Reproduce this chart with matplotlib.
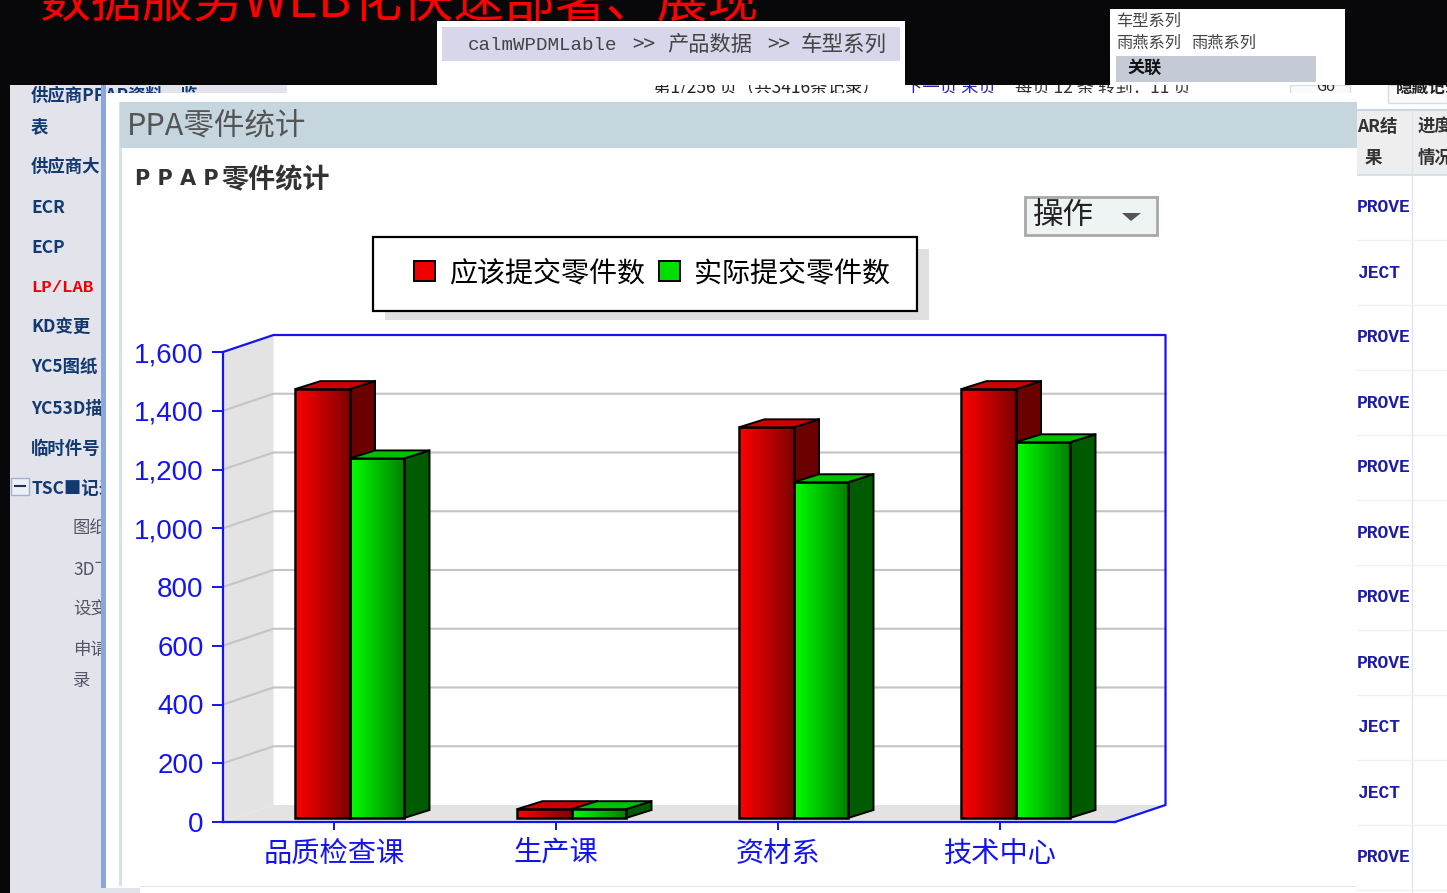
import matplotlib
matplotlib.use('Agg')
import matplotlib.pyplot as plt
import numpy as np
from matplotlib.patches import Rectangle, Polygon, Patch

plt.rcParams['font.family'] = ['Noto Sans CJK SC', 'DejaVu Sans']

categories = ['品质检查课', '生产课', '资材系', '技术中心']
should_submit = [1460, 30, 1330, 1460]
actual_submit = [1224, 30, 1143, 1279]
y_ticks = [0, 200, 400, 600, 800, 1000, 1200, 1400, 1600]
legend_labels = ['应该提交零件数', '实际提交零件数']

sidebar_bold = [('表', 125), ('供应商大', 165), ('ECR', 206), ('ECP', 246),
                ('KD变更', 326), ('YC5图纸', 366), ('YC53D描', 407), ('临时件号', 447)]
sidebar_plain = [('图纸', 527), ('3D下', 568), ('设变', 608), ('申请', 648)]
status_rows = ['PROVE', 'JECT', 'PROVE', 'PROVE', 'PROVE', 'PROVE', 'PROVE', 'PROVE', 'JECT', 'JECT', 'PROVE']
status_y = [207, 272, 337, 402, 467, 532, 597, 662, 727, 792, 857]

W, H = 1447, 893
fig = plt.figure(figsize=(W / 100, H / 100), dpi=100, facecolor='#08080a')

# page axes in screenshot pixels, for everything around the chart
page = fig.add_axes([0, 0, 1, 1])
page.set_xlim(0, W)
page.set_ylim(H, 0)
page.axis('off')


def box(x0, y0, x1, y1, color, z=1, **kw):
    page.add_patch(Rectangle((x0, y0), x1 - x0, y1 - y0, facecolor=color, edgecolor=kw.pop('edge', 'none'), zorder=z, **kw))


def label(x, y, s, size=12, color='#333333', z=2, **kw):
    # CJK glyphs sit a bit high with va=center
    page.text(x, y + 2, s, fontsize=size, color=color, va='center', zorder=z, **kw)


# background page
box(10, 85, W, H, 'white', 1)
box(10, 85, 101, H, '#e3e3ec', 1)
box(101, 85, 287, 93, '#e3e3ec', 1)
label(31, 94, '供应商PPAP资料一览', 12.5, '#123a70', weight='bold')
for txt, yy in sidebar_bold:
    label(31, yy, txt, 12.5, '#123a70', weight='bold')
label(31, 286, 'LP/LAB', 12.5, '#f00000', weight='bold', family='Liberation Mono')
label(31, 487, 'TSC■记录', 12.5, '#123a70', weight='bold')
for txt, yy in sidebar_plain:
    label(73, yy, txt, 12.5, '#555566')
label(73, 679, '录', 12.5, '#555566')
box(11, 478, 29, 495, '#eef0f8', 2, edge='#9db2d8', linewidth=1)
page.plot([15, 25], [486, 486], color='#223355', lw=1.5, zorder=3)
label(653, 85, '第1/256 页（共3416条记录）', 12.5, '#222222')
label(905, 85, '下一页 末页', 12.5, '#2222aa')
label(1015, 85, '每页 12 条 转到：11 页', 12.5, '#333333')
box(1290, 85, 1350, 103, '#fafafa', 1, edge='#d5dde8', linewidth=1)
label(1316, 85, 'Go', 10.5, '#222222')
box(1388, 85, W, 103, '#fafafa', 1, edge='#d5dde8', linewidth=1)
label(1396, 86, '隐藏记录', 12, '#222222', weight='bold')

# table on the right
box(1357, 110, W, 175, '#eeeeee', 1)
page.plot([1357, W], [110, 110], color='#c5d6e5', lw=1.5, zorder=2)
page.plot([1357, W], [175, 175], color='#d5e0ea', lw=1.5, zorder=2)
page.plot([1412, 1412], [110, H], color='#dde6ee', lw=1, zorder=2)
label(1357, 125, 'AR结', 12.5, '#333333', weight='bold')
label(1365, 156, '果', 12.5, '#333333', weight='bold')
label(1418, 125, '进度', 12.5, '#333333', weight='bold')
label(1418, 156, '情况', 12.5, '#333333', weight='bold')
for txt, yy in zip(status_rows, status_y):
    label(1357, yy - 1, txt, 13, '#1c1ca8', weight='bold', family='Liberation Mono')
    page.plot([1357, W], [yy + 33, yy + 33], color='#f0f0f0', lw=1, zorder=2)

# black band at the top with its pasted pieces
box(0, 0, W, 85, '#08080a', 3)
box(0, 0, 10, H, '#08080a', 3)
label(40, 0, '数据服务WEB化快速部署、展现', 36.6, '#ff0000', 4)
box(437, 21, 905, 85, 'white', 4)
box(442, 27, 900, 61, '#d8d6ea', 5)
label(468, 43, 'calmWPDMLable', 13.8, '#444444', 6, family='Liberation Mono')
label(632, 43, '>>', 15, '#444444', 6)
label(667, 43, '产品数据', 15.3, '#444444', 6)
label(767, 43, '>>', 15, '#444444', 6)
label(801, 43, '车型系列', 15.5, '#444444', 6)
box(1110, 9, 1345, 85, 'white', 4)
label(1116, 19, '车型系列', 11.7, '#444444', 6)
label(1116, 41, '雨燕系列', 11.7, '#444444', 6)
label(1191, 41, '雨燕系列', 11.7, '#444444', 6)
box(1116, 56, 1316, 82, '#c5cbd6', 5)
label(1127, 66, '关联', 12.3, '#111111', 6, weight='bold')

# dialog with the chart
box(101, 85, 106, 888, '#8ba6d8', 7)
box(106, 93, 1357, 886, 'white', 7)
box(101, 888, 140, H, '#e3e3ec', 7)
box(119, 102, 122, 886, '#d5e2ea', 8)
box(120, 102, 1357, 148, '#c5d6df', 8)
label(127, 124, 'PPA零件统计', 22, '#555555', 9)
label(135, 177, 'P P A P', 15, '#333333', 9, weight='bold', family='DejaVu Sans')
label(221, 178, '零件统计', 19.5, '#333333', 9, weight='bold')
box(1025, 197, 1157, 235, '#eef3f3', 8, edge='#a8a8a8', linewidth=2)
label(1033, 213, '操作', 22, '#222222', 9)
page.add_patch(Polygon([(1122, 213), (1141, 213), (1131, 221)], facecolor='#555555', zorder=9))
box(385, 249, 929, 320, '#e0e0e0', 8)
box(373, 237, 917, 311, 'white', 8, edge='black', linewidth=1.6)
box(140, 886, 1357, 887, '#e6e6e6', 8)

# chart axes sit on the front plane of the fake 3D box
ax_left, ax_right, ax_top, ax_bottom = 223, 1115, 352, 822
ax = fig.add_axes([ax_left / W, 1 - ax_bottom / H, (ax_right - ax_left) / W, (ax_bottom - ax_top) / H])
ax.patch.set_alpha(0)
ax.set_zorder(2)
ax.set_xlim(-0.5, 3.518)
ax.set_ylim(0, 1600)

# pixel sizes of the 3D look, converted to data units
px_x = 1 / 222.0
px_y = 1600 / 470.0
wall_dx, wall_dy = 50.5 * px_x, 17 * px_y
depth_dx, depth_dy = 25.5 * px_x, 8 * px_y
bar_w = 54.5 * px_x
bar_start = -39 * px_x
lift = 4 * px_y
x0, x1 = ax.get_xlim()

ax.add_patch(Polygon([(x0, 0), (x0 + wall_dx, wall_dy), (x0 + wall_dx, 1600 + wall_dy), (x0, 1600)],
                     facecolor='#e3e3e3', edgecolor='none', clip_on=False, zorder=1))
ax.add_patch(Polygon([(x0, 0), (x1, 0), (x1 + wall_dx, wall_dy), (x0 + wall_dx, wall_dy)],
                     facecolor='#e3e3e3', edgecolor='none', clip_on=False, zorder=1))
for t in y_ticks[1:-1]:
    ax.plot([x0, x0 + wall_dx, x1 + wall_dx], [t, t + wall_dy, t + wall_dy], color='#c4c4c4', lw=1.5, clip_on=False, zorder=2)
ax.plot([x0, x0 + wall_dx, x1 + wall_dx, x1 + wall_dx, x1], [1600, 1600 + wall_dy, 1600 + wall_dy, wall_dy, 0],
        color='#1414f0', lw=1.6, clip_on=False, zorder=3)


def draw_bar(x, val, light, dark, top, side):
    grad = np.linspace(0, 1, 64)[None, :, None]
    rgb = (1 - grad) * np.array(light) + grad * np.array(dark)
    y0, y1 = lift, lift + val
    ax.imshow(rgb, extent=(x, x + bar_w, y0, y1), aspect='auto', zorder=5, clip_on=False)
    ax.add_patch(Rectangle((x, y0), bar_w, val, facecolor='none', edgecolor='black', lw=1.8, zorder=6, clip_on=False))
    ax.add_patch(Polygon([(x, y1), (x + depth_dx, y1 + depth_dy), (x + bar_w + depth_dx, y1 + depth_dy), (x + bar_w, y1)],
                         facecolor=top, edgecolor='black', lw=1.4, zorder=6, clip_on=False))
    ax.add_patch(Polygon([(x + bar_w, y0), (x + bar_w + depth_dx, y0 + depth_dy), (x + bar_w + depth_dx, y1 + depth_dy), (x + bar_w, y1)],
                         facecolor=side, edgecolor='black', lw=1.4, zorder=4, clip_on=False))


for i in range(len(categories)):
    draw_bar(i + bar_start, should_submit[i], (1, 0, 0), (0.5, 0, 0), '#d00000', '#6b0000')
    draw_bar(i + bar_start + bar_w, actual_submit[i], (0, 1, 0), (0, 0.5, 0), '#00c000', '#005a00')
ax.set_xlim(x0, x1)
ax.set_ylim(0, 1600)

ax.set_xticks(range(len(categories)))
ax.set_xticklabels(categories, fontsize=20.3, color='#1414f0')
ax.set_yticks(y_ticks)
ax.set_yticklabels([f'{t:,}' for t in y_ticks], fontsize=20, color='#1414f0', family='Liberation Sans')
ax.tick_params(axis='y', length=8, width=1.4, color='#1414f0', pad=6)
ax.tick_params(axis='x', length=6, width=1.4, color='#1414f0', pad=6)
for name in ['top', 'right']:
    ax.spines[name].set_visible(False)
for name in ['left', 'bottom']:
    ax.spines[name].set_color('#1414f0')
    ax.spines[name].set_linewidth(1.6)

handles = [Patch(facecolor='#ee0000', edgecolor='black', linewidth=1.4),
           Patch(facecolor='#00dd00', edgecolor='black', linewidth=1.4)]
ax.legend(handles, legend_labels, loc='center', bbox_to_anchor=(652 / W, 1 - 273 / H),
          bbox_transform=fig.transFigure, ncol=2, fontsize=20.2, frameon=False,
          handlelength=0.75, handleheight=0.75, handletextpad=0.5,
          columnspacing=0.5, borderpad=0, borderaxespad=0)

fig.savefig('out.png', dpi=100, facecolor=fig.get_facecolor())
